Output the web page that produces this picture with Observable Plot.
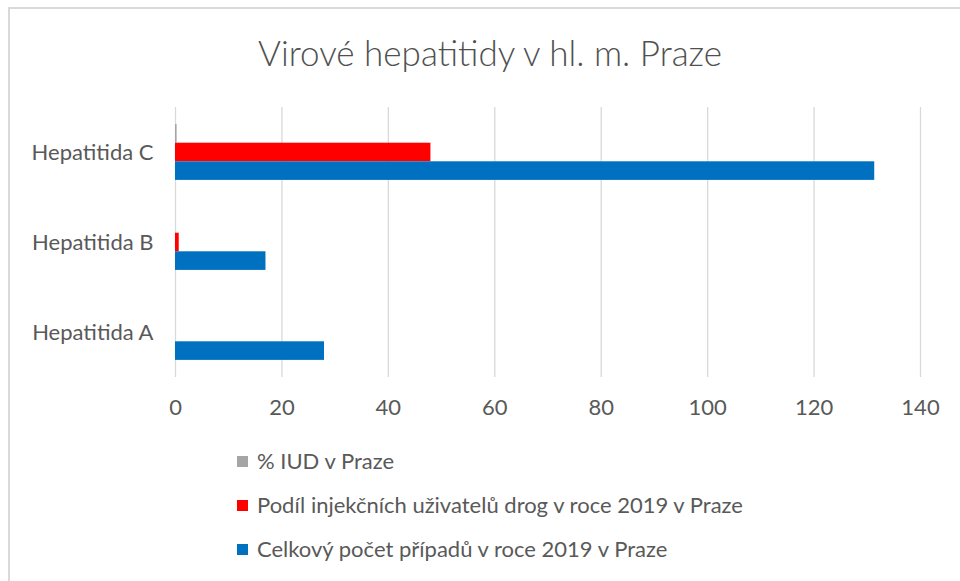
<!DOCTYPE html>
<html>
<head>
<meta charset="utf-8">
<script src="https://cdn.jsdelivr.net/npm/d3@7"></script>
<script src="https://cdn.jsdelivr.net/npm/@observablehq/plot@0.6"></script>
<style>
  html, body { margin: 0; padding: 0; background: #fff; overflow: hidden; }
  #wrap { position: relative; width: 960px; height: 581px; overflow: hidden; font-family: Lato, "Open Sans", sans-serif; color: #595959; }
  #frame { position: absolute; left: 8px; top: 7px; width: 1000px; height: 1000px; border: 2px solid #d9d9d9; box-sizing: border-box; }
  #title { position: absolute; left: 0; width: 980px; top: 35px; text-align: center; font-size: 35px; line-height: 1; font-weight: 300; color: #505050; }
  #chart { position: absolute; left: 0; top: 90px; }
  .leg { position: absolute; left: 237px; font-size: 22px; line-height: 22px; white-space: nowrap; display: flex; align-items: center; }
  .leg .sw { width: 11px; height: 11px; margin-right: 9px; display: inline-block; }
</style>
</head>
<body>
<div id="wrap">
  <div id="frame"></div>
  <div id="title">Virové hepatitidy v hl. m. Praze</div>
  <div id="chart"></div>
  <div id="legend"></div>
</div>
<script>
// Data
const categories = ["Hepatitida C", "Hepatitida B", "Hepatitida A"];
const seriesNames = [
  "% IUD v Praze",
  "Podíl injekčních uživatelů drog v roce 2019 v Praze",
  "Celkový počet případů v roce 2019 v Praze"
];
const seriesColors = ["#a5a5a5", "#ff0000", "#0070c0"];
// values per category (same order as categories)
const iudValues = [0.3, 0, 0];
const podilValues = [48, 0.7, 0];
const celkemValues = [131.4, 17, 28];
const xTicks = [0, 20, 40, 60, 80, 100, 120, 140];

const seriesValues = [iudValues, podilValues, celkemValues];
const rows = [];
categories.forEach((c, i) => {
  seriesNames.forEach((s, j) => {
    rows.push({cat: c, series: s, value: seriesValues[j][i]});
  });
});

const chart = Plot.plot({
  width: 960,
  height: 340,
  marginTop: 17,
  marginBottom: 53,
  marginLeft: 175,
  marginRight: 40,
  style: {fontFamily: "Lato, 'Open Sans', sans-serif", fontSize: "22px", color: "#595959", background: "transparent", overflow: "visible"},
  x: {domain: [0, 140], ticks: xTicks, tickSize: 0, tickPadding: 22, label: null},
  fy: {domain: categories, padding: 0, tickSize: 0, tickPadding: 22, label: null},
  y: {domain: seriesNames, axis: null, paddingInner: 0, paddingOuter: 0.92, round: false},
  color: {domain: seriesNames, range: seriesColors},
  marks: [
    Plot.ruleX(xTicks, {stroke: "#d9d9d9", strokeWidth: 1.3}),
    Plot.barX(rows, {fy: "cat", y: "series", x: "value", fill: "series"})
  ]
});
document.getElementById("chart").appendChild(chart);

const legend = document.getElementById("legend");
const legendTops = [450, 494, 538];
seriesNames.forEach((s, j) => {
  const d = document.createElement("div");
  d.className = "leg";
  d.style.top = legendTops[j] + "px";
  const sw = document.createElement("span");
  sw.className = "sw";
  sw.style.background = seriesColors[j];
  d.appendChild(sw);
  d.appendChild(document.createTextNode(s));
  legend.appendChild(d);
});
</script>
</body>
</html>
